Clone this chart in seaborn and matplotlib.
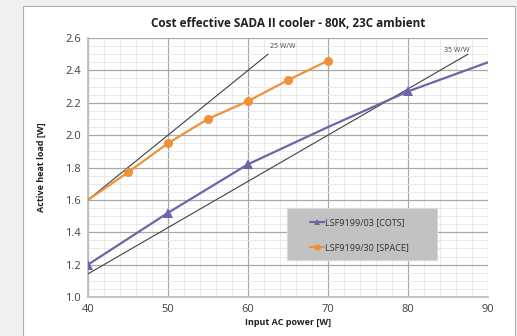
import matplotlib
matplotlib.use("Agg")
import matplotlib.pyplot as plt
import matplotlib.patches as mpatches
from matplotlib.ticker import MultipleLocator
import seaborn as sns
import pandas as pd

# data
cots_power = [40, 50, 60, 70, 80, 90]
cots_load = [1.20, 1.52, 1.82, 2.05, 2.27, 2.45]
cots_marked = [0, 1, 2, 4]
space_power = [40, 45, 50, 55, 60, 65, 70]
space_load = [1.60, 1.77, 1.95, 2.10, 2.21, 2.34, 2.46]
space_marked = [1, 2, 3, 4, 5, 6]
ref25_power = [40, 62.5]
ref25_load = [1.60, 2.50]
ref35_power = [40, 87.5]
ref35_load = [1.143, 2.50]

title = "Cost effective SADA II cooler - 80K, 23C ambient"
xlabel = "Input AC power [W]"
ylabel = "Active heat load [W]"
cots_label = "LSF9199/03 [COTS]"
space_label = "LSF9199/30 [SPACE]"

sns.set_theme(style="white")
plt.rcParams['font.family'] = ['Open Sans', 'DejaVu Sans']

fig = plt.figure(figsize=(5.17, 3.36), dpi=100)
fig.patch.set_facecolor("#f0f0f0")
panel = mpatches.Rectangle((23 / 517, -0.01), (515 - 23) / 517, 1 - 6 / 336 + 0.01,
                           transform=fig.transFigure, facecolor="white",
                           edgecolor="#b0b0b0", linewidth=0.8, zorder=-10)
fig.patches.append(panel)

ax = fig.add_axes([88 / 517, 1 - 297 / 336, 400 / 517, 259 / 336])
ax.set_facecolor("white")

purple = "#7262a8"
orange = "#f0913a"

df_c = pd.DataFrame({"x": cots_power, "y": cots_load})
df_s = pd.DataFrame({"x": space_power, "y": space_load})

sns.lineplot(data=pd.DataFrame({"x": ref25_power, "y": ref25_load}), x="x", y="y",
             ax=ax, color="#404040", linewidth=0.8, zorder=3)
sns.lineplot(data=pd.DataFrame({"x": ref35_power, "y": ref35_load}), x="x", y="y",
             ax=ax, color="#404040", linewidth=0.8, zorder=3)
sns.lineplot(data=df_c, x="x", y="y", ax=ax, color=purple, linewidth=1.6,
             marker="^", markersize=7, markevery=cots_marked, markeredgewidth=0,
             label=cots_label, zorder=4)
sns.lineplot(data=df_s, x="x", y="y", ax=ax, color=orange, linewidth=1.6,
             marker="o", markersize=6.5, markevery=space_marked, markeredgewidth=0,
             label=space_label, zorder=4)

ax.text(62.8, 2.525, "25 W/W", fontsize=5, color="#404040", ha="left", va="bottom")
ax.text(84.5, 2.5, "35 W/W", fontsize=5, color="#404040", ha="left", va="bottom")

ax.set_xlim(40, 90)
ax.set_ylim(1.0, 2.6)
ax.xaxis.set_major_locator(MultipleLocator(10))
ax.xaxis.set_minor_locator(MultipleLocator(2))
ax.yaxis.set_major_locator(MultipleLocator(0.2))
ax.yaxis.set_minor_locator(MultipleLocator(0.05))
ax.set_yticklabels([f"{v:.1f}" for v in ax.get_yticks()])
ax.grid(which="major", color="#a8a8a8", linewidth=0.9)
ax.grid(which="minor", color="#e6e6e6", linewidth=0.6)
ax.set_axisbelow(True)
for s in ["top", "right"]:
    ax.spines[s].set_visible(False)
ax.spines["left"].set_color("#bdbdbd")
ax.spines["bottom"].set_color("#bdbdbd")
ax.tick_params(axis="both", which="major", labelsize=8, colors="#404040", length=0, pad=5)
ax.tick_params(axis="both", which="minor", length=0)

ax.set_title(title, fontsize=8.5, fontweight="bold", color="#202020", pad=8)
ax.set_xlabel(xlabel, fontsize=6.5, fontweight="bold", color="#202020", labelpad=2)
ax.set_ylabel(ylabel, fontsize=6.5, fontweight="bold", color="#202020", labelpad=14)

# legend box
box = mpatches.Rectangle((0.4975, 0.143), 0.375, 0.2, transform=ax.transAxes,
                         facecolor="#c2c2c2", edgecolor="#d8d8d8", linewidth=0.8, zorder=5)
ax.add_patch(box)
leg = ax.legend(loc="upper left", bbox_to_anchor=(0.555, 0.303),
                frameon=False, fontsize=6.5, handlelength=1.6, labelspacing=1.7,
                borderpad=0, handletextpad=0.1, borderaxespad=0, markerscale=0.7)
leg.set_zorder(6)
for t in leg.get_texts():
    t.set_color("#303030")

fig.savefig("out.png", dpi=100, facecolor=fig.get_facecolor())
